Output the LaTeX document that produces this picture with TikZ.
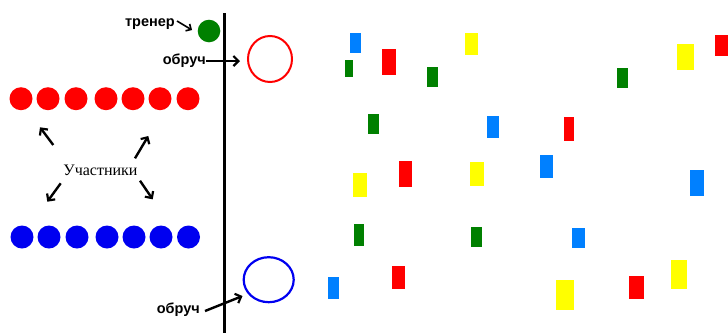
\documentclass[tikz,border=0pt]{standalone}
\usepackage{fontspec}
\setmainfont{Liberation Serif}
\setsansfont{Liberation Sans}
\usetikzlibrary{arrows.meta,shapes.geometric}
\definecolor{cred}{RGB}{255,0,0}
\definecolor{cgreen}{RGB}{0,128,0}
\definecolor{cblue}{RGB}{0,0,240}
\definecolor{rblue}{RGB}{0,128,255}
\definecolor{cyellow}{RGB}{255,255,0}
\tikzset{
  lbl/.style={font=\sffamily\bfseries\fontsize{14.5}{16}\selectfont, inner sep=0pt},
  hand/.style={line width=2.4pt, -{Straight Barb[length=5pt,width=10pt,line width=2.2pt]}},
  dotr/.style={circle, fill=cred, minimum size=23pt, inner sep=0pt},
  dotb/.style={circle, fill=cblue, minimum size=23pt, inner sep=0pt},
}
\begin{document}
\begin{tikzpicture}[x=1pt,y=-1pt]
\useasboundingbox (0,0) rectangle (728,333);
% vertical line
\coordinate (ltop) at (224.5,13);
\coordinate (lbot) at (224.5,333);
\draw[line width=3pt] (ltop) -- (lbot);
% coach
\node[circle, fill=cgreen, minimum size=22.6pt, inner sep=0pt] (coach) at (209,31) {};
\node[lbl, anchor=east] (trener) at (175,24) {тренер};
\coordinate (tre) at (192,30);
\draw[line width=1.6pt, -{Straight Barb[length=4pt,width=8pt,line width=1.6pt]}] (trener.east) ++(2,-3) -- (tre);
% hoops
\node[draw=cred, line width=2pt, ellipse, minimum width=44pt, minimum height=46pt, inner sep=0pt] (hoopr) at (270,59) {};
\node[draw=cblue, line width=2.2pt, ellipse, minimum width=50pt, minimum height=45pt, inner sep=0pt] (hoopb) at (268.7,279.7) {};
\node[lbl, anchor=east] (obr1) at (206,61) {обруч};
\coordinate (o1e) at (240,61);
\draw[hand] (obr1.east) -- (o1e);
\node[lbl, anchor=east] (obr2) at (200,310) {обруч};
\coordinate (o2s) at (205,311);
\coordinate (o2e) at (242.5,296);
\draw[hand] (o2s) -- (o2e);
% rows
\foreach \i/\x in {1/21,2/48,3/76,4/106,5/133,6/160,7/188}{
  \node[dotr] (r\i) at (\x,98.7) {};
}
\foreach \i/\x in {1/22,2/49,3/77,4/107,5/134,6/161,7/188.5}{
  \node[dotb] (b\i) at (\x,237) {};
}
% participants
\node[font=\fontsize{16}{18}\selectfont, inner sep=1pt] (uch) at (100.5,170) {Участники};
\coordinate (a1s) at (53.3,145);   \coordinate (a1e) at (40,127.3);
\coordinate (a2s) at (135,158.3);  \coordinate (a2e) at (148.3,136);
\coordinate (a3s) at (60.7,183.3); \coordinate (a3e) at (47.3,201.7);
\coordinate (a4s) at (140,180.7);  \coordinate (a4e) at (152.7,199.3);
\draw[hand] (a1s) -- (a1e);
\draw[hand] (a2s) -- (a2e);
\draw[hand] (a3s) -- (a3e);
\draw[hand] (a4s) -- (a4e);
% scattered rectangles
\fill[rblue]   (350,32.7) rectangle (360.7,52.7);
\fill[cgreen]  (345,60) rectangle (352.7,77);
\fill[cred]    (382.3,49.3) rectangle (395.7,74.7);
\fill[cgreen]  (427.3,67) rectangle (438.3,87);
\fill[cyellow] (465,32.7) rectangle (477.7,55.3);
\fill[cgreen]  (617,67.7) rectangle (628,88);
\fill[cyellow] (677,44.3) rectangle (694.3,70);
\fill[cred]    (715,35) rectangle (730,56);
\fill[cgreen]  (368,114) rectangle (379.3,134);
\fill[rblue]   (486.7,116) rectangle (498.7,138);
\fill[cred]    (564,117) rectangle (574.3,141);
\fill[cyellow] (353.3,172.7) rectangle (367,196.7);
\fill[cred]    (398.7,161.3) rectangle (412,186.7);
\fill[cyellow] (470.3,162) rectangle (484.3,185.7);
\fill[rblue]   (540,155) rectangle (553,178);
\fill[rblue]   (690.3,170) rectangle (704.3,195.7);
\fill[cgreen]  (354,223.7) rectangle (364.3,246);
\fill[cgreen]  (471,227) rectangle (482.3,247);
\fill[rblue]   (571.7,227.7) rectangle (585,247.7);
\fill[rblue]   (327.7,277) rectangle (339.3,299.3);
\fill[cred]    (392.3,266.3) rectangle (405,289.3);
\fill[cyellow] (556,280) rectangle (574,309.7);
\fill[cred]    (629.3,276.3) rectangle (644.3,298.7);
\fill[cyellow] (670.7,260) rectangle (687,289.3);
\end{tikzpicture}
\end{document}
